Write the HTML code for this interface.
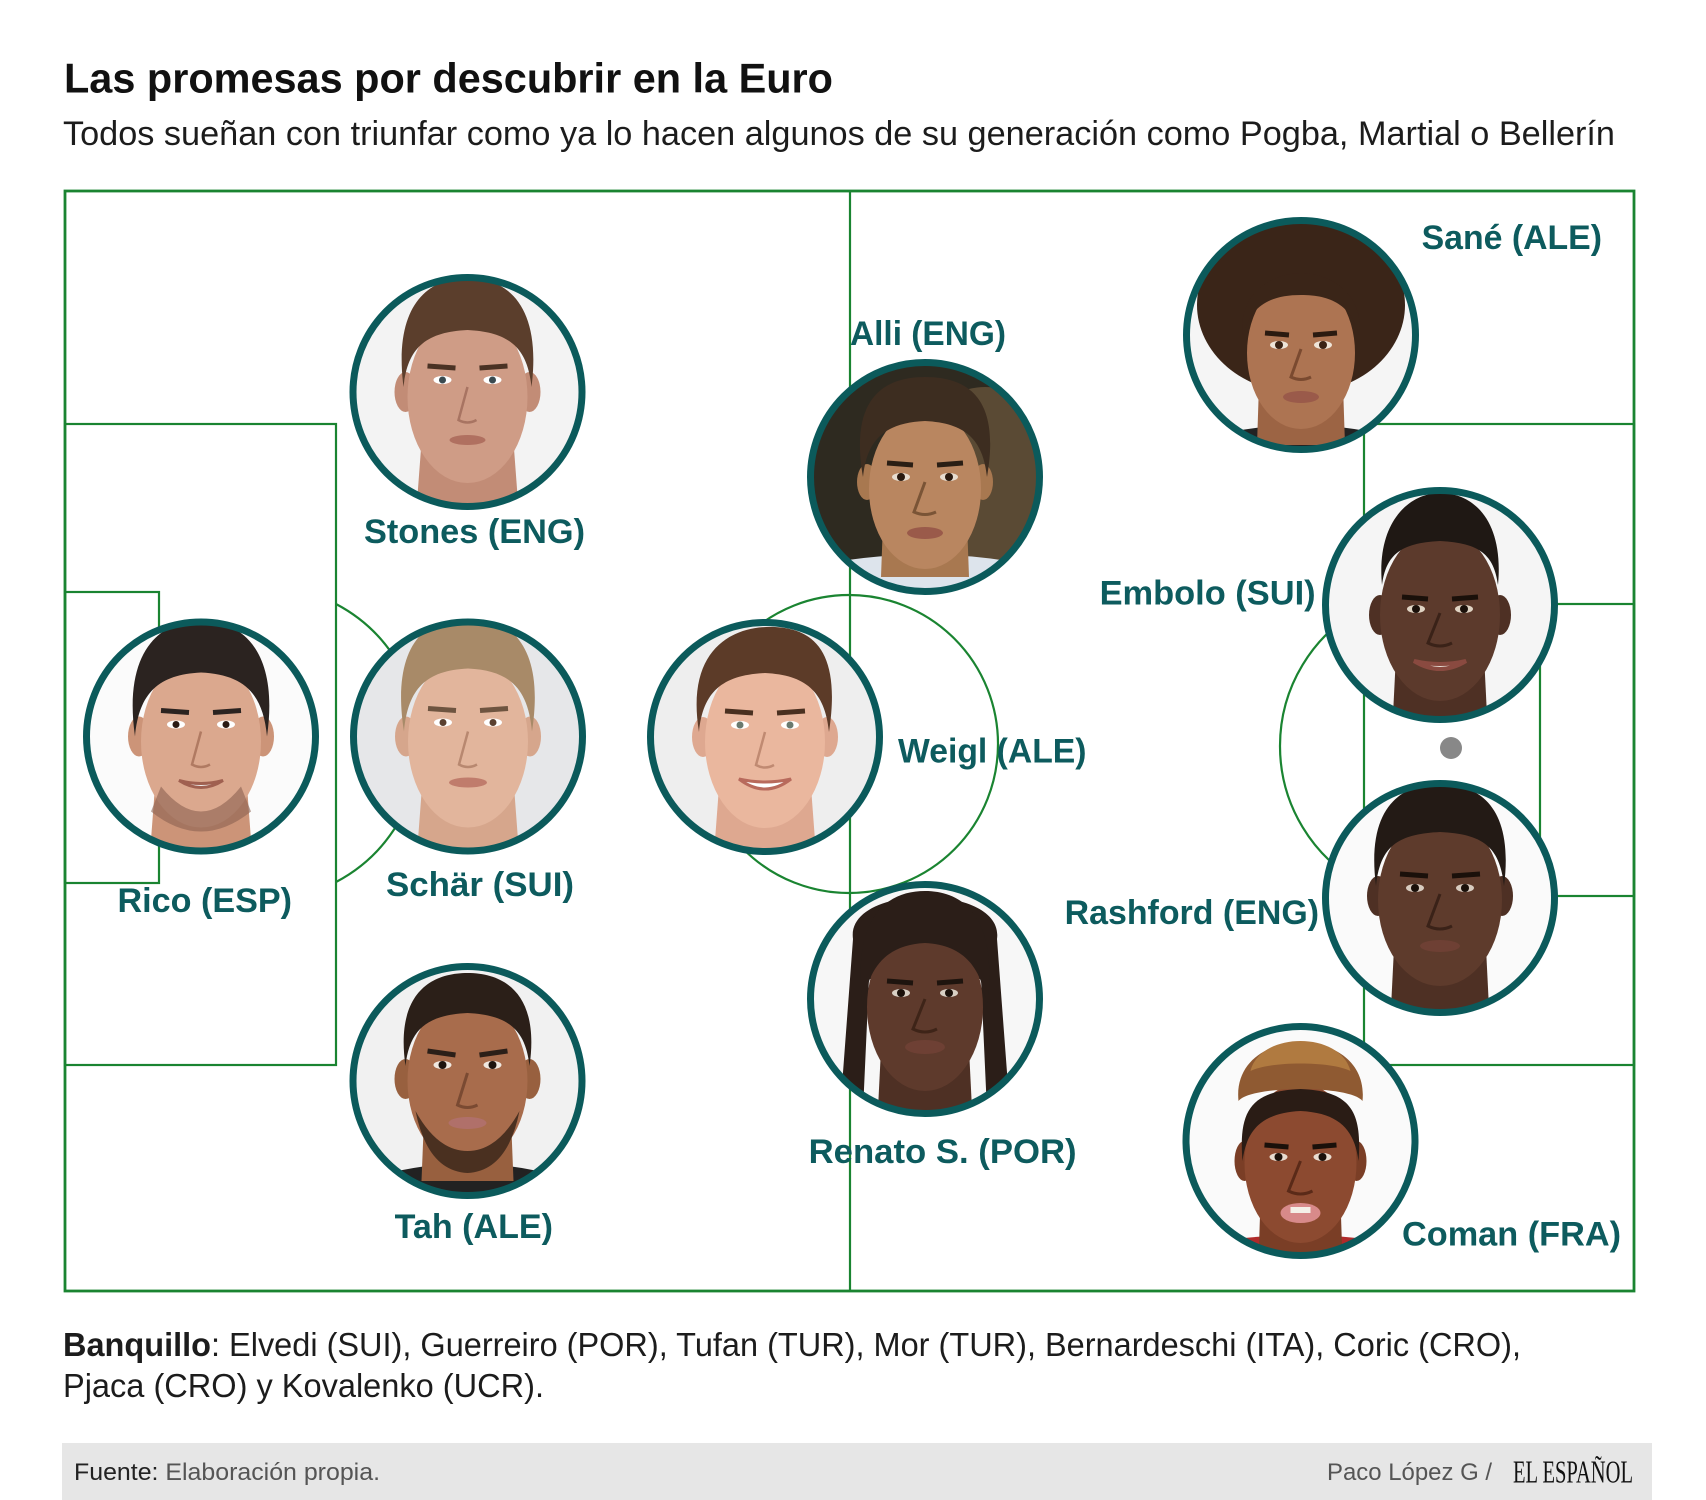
<!DOCTYPE html>
<html>
<head>
<meta charset="utf-8">
<style>
  html, body { margin:0; padding:0; background:#ffffff; }
  svg { display:block; }
  .lbl { font-family:"Liberation Sans", sans-serif; font-weight:bold; font-size:34px; fill:#0d5b5e; }
</style>
</head>
<body>
<svg width="1706" height="1500" viewBox="0 0 1706 1500" xmlns="http://www.w3.org/2000/svg">
  <defs>
    <clipPath id="c"><circle cx="0" cy="0" r="114"/></clipPath>
  </defs>
  <rect x="0" y="0" width="1706" height="1500" fill="#ffffff"/>

  <!-- Title -->
  <text x="64" y="92.5" font-family="Liberation Sans, sans-serif" font-weight="bold" font-size="42" fill="#111111" textLength="769" lengthAdjust="spacingAndGlyphs">Las promesas por descubrir en la Euro</text>
  <text x="63" y="145" font-family="Liberation Sans, sans-serif" font-size="34" fill="#1c1c1c" textLength="1552" lengthAdjust="spacingAndGlyphs">Todos sueñan con triunfar como ya lo hacen algunos de su generación como Pogba, Martial o Bellerín</text>

  <!-- Field -->
  <g fill="none" stroke="#1a8431" stroke-width="2.2">
    <rect x="65" y="191" width="1569" height="1100" stroke-width="2.8"/>
    <line x1="850" y1="191" x2="850" y2="1291"/>
    <circle cx="849" cy="744" r="149"/>
    <!-- left -->
    <rect x="65" y="424" width="271" height="641"/>
    <rect x="65" y="592" width="94" height="291"/>
    <path d="M336,604 A157,157 0 0 1 336,882"/>
    <!-- right -->
    <rect x="1364" y="424" width="270" height="641"/>
    <rect x="1540" y="604" width="94" height="292"/>
    <path d="M1364,607 A157,157 0 0 0 1364,885"/>
  </g>
  <circle cx="1451" cy="748" r="11" fill="#888888"/>

  <!-- Players -->
  <!-- Stones -->
  <g transform="translate(467.5,392)">
    <g clip-path="url(#c)">
      <rect x="-120" y="-120" width="240" height="240" fill="#f3f3f3"/>
      <path d="M-46,50 L-52,130 L52,130 L46,50 Z" fill="#c28c76"/>
      <ellipse cx="-62" cy="0" rx="11" ry="20" fill="#c28c76"/>
      <ellipse cx="62" cy="0" rx="11" ry="20" fill="#c28c76"/>
      <ellipse cx="0" cy="5" rx="60" ry="86" fill="#cf9c86"/>
      <path d="M-64,-5 C-74,-84 -42,-114 0,-114 C42,-114 74,-84 64,-5 C60,-44 42,-60 0,-62 C-42,-60 -60,-44 -64,-5 Z" fill="#5b3e2c"/>
      <path d="M-40,-26 L-12,-24 M12,-24 L40,-26" stroke="#4a3224" stroke-width="5" fill="none"/>
      <ellipse cx="-25" cy="-12" rx="9" ry="4" fill="#ffffff"/><circle cx="-25" cy="-12" r="3.5" fill="#3a4a50"/>
      <ellipse cx="25" cy="-12" rx="9" ry="4" fill="#ffffff"/><circle cx="25" cy="-12" r="3.5" fill="#3a4a50"/>
      <path d="M0,-5 L-9,28 Q0,33 9,28" stroke="#a87462" stroke-width="2.5" fill="none"/>
      <ellipse cx="0" cy="48" rx="18" ry="5" fill="#b07060"/>
    </g>
    <circle cx="0" cy="0" r="114.5" fill="none" stroke="#0b5a5b" stroke-width="7"/>
  </g>

  <!-- Rico -->
  <g transform="translate(201,736.5)">
    <g clip-path="url(#c)">
      <rect x="-120" y="-120" width="240" height="240" fill="#fbfbfb"/>
      <path d="M-46,50 L-52,130 L52,130 L46,50 Z" fill="#cc9478"/>
      <ellipse cx="-62" cy="0" rx="11" ry="20" fill="#cc9478"/>
      <ellipse cx="62" cy="0" rx="11" ry="20" fill="#cc9478"/>
      <ellipse cx="0" cy="5" rx="60" ry="86" fill="#dba88e"/>
      <path d="M-40,50 Q0,100 40,50 L50,75 Q0,115 -50,75 Z" fill="#8a6050" opacity="0.6"/>
      <path d="M-66,0 C-78,-84 -42,-116 0,-116 C42,-116 78,-84 66,0 C62,-44 42,-62 0,-64 C-42,-62 -62,-44 -66,0 Z" fill="#2b2320"/>
      <path d="M-40,-26 L-12,-24 M12,-24 L40,-26" stroke="#2b2320" stroke-width="5" fill="none"/>
      <ellipse cx="-25" cy="-12" rx="9" ry="4" fill="#ffffff"/><circle cx="-25" cy="-12" r="3.5" fill="#2a1a14"/>
      <ellipse cx="25" cy="-12" rx="9" ry="4" fill="#ffffff"/><circle cx="25" cy="-12" r="3.5" fill="#2a1a14"/>
      <path d="M0,-5 L-9,28 Q0,33 9,28" stroke="#b07a62" stroke-width="2.5" fill="none"/>
      <path d="M-22,44 Q0,58 22,44 Q0,50 -22,44 Z" fill="#f0f0f0" stroke="#a06050" stroke-width="3"/>
    </g>
    <circle cx="0" cy="0" r="114.5" fill="none" stroke="#0b5a5b" stroke-width="7"/>
  </g>

  <!-- Schär -->
  <g transform="translate(468,736.5)">
    <g clip-path="url(#c)">
      <rect x="-120" y="-120" width="240" height="240" fill="#e6e7e9"/>
      <path d="M-46,50 L-52,130 L52,130 L46,50 Z" fill="#d6a68c"/>
      <ellipse cx="-62" cy="0" rx="11" ry="20" fill="#d6a68c"/>
      <ellipse cx="62" cy="0" rx="11" ry="20" fill="#d6a68c"/>
      <ellipse cx="0" cy="5" rx="60" ry="86" fill="#e2b59c"/>
      <path d="M-64,-5 C-76,-80 -50,-116 -10,-118 L10,-122 C48,-112 76,-84 64,-5 C60,-48 42,-66 0,-68 C-42,-66 -60,-48 -64,-5 Z" fill="#a88a68"/>
      <path d="M-40,-28 L-12,-26 M12,-26 L40,-28" stroke="#6e5440" stroke-width="5" fill="none"/>
      <ellipse cx="-25" cy="-14" rx="9" ry="4" fill="#ffffff"/><circle cx="-25" cy="-14" r="3.5" fill="#5a4030"/>
      <ellipse cx="25" cy="-14" rx="9" ry="4" fill="#ffffff"/><circle cx="25" cy="-14" r="3.5" fill="#5a4030"/>
      <path d="M0,-5 L-9,28 Q0,33 9,28" stroke="#b88870" stroke-width="2.5" fill="none"/>
      <ellipse cx="0" cy="46" rx="19" ry="5" fill="#c07c6c"/>
    </g>
    <circle cx="0" cy="0" r="114.5" fill="none" stroke="#0b5a5b" stroke-width="7"/>
  </g>

  <!-- Tah -->
  <g transform="translate(467.5,1081)">
    <g clip-path="url(#c)">
      <rect x="-120" y="-120" width="240" height="240" fill="#f1f1f1"/>
      <path d="M-90,95 Q0,70 90,95 L100,130 L-100,130 Z" fill="#222222"/>
      <path d="M-44,50 L-46,100 L46,100 L44,50 Z" fill="#98603f"/>
      <ellipse cx="-62" cy="-2" rx="11" ry="20" fill="#98603f"/>
      <ellipse cx="62" cy="-2" rx="11" ry="20" fill="#98603f"/>
      <ellipse cx="0" cy="0" rx="60" ry="84" fill="#a86c4c"/>
      <path d="M-52,30 Q-40,90 0,92 Q40,90 52,30 Q30,70 0,70 Q-30,70 -52,30 Z" fill="#4a3020"/>
      <path d="M-62,-15 C-72,-84 -40,-108 0,-108 C40,-108 72,-84 62,-15 C58,-52 40,-66 0,-68 C-40,-66 -58,-52 -62,-15 Z" fill="#2b1f18"/>
      <path d="M-40,-30 L-12,-26 M12,-26 L40,-30" stroke="#2b1f18" stroke-width="5" fill="none"/>
      <ellipse cx="-25" cy="-16" rx="9" ry="4" fill="#f0e8e0"/><circle cx="-25" cy="-16" r="4" fill="#1e140e"/>
      <ellipse cx="25" cy="-16" rx="9" ry="4" fill="#f0e8e0"/><circle cx="25" cy="-16" r="4" fill="#1e140e"/>
      <path d="M0,-8 L-10,24 Q0,29 10,24" stroke="#7a4a32" stroke-width="3" fill="none"/>
      <ellipse cx="0" cy="42" rx="19" ry="6" fill="#b0706a"/>
    </g>
    <circle cx="0" cy="0" r="114.5" fill="none" stroke="#0b5a5b" stroke-width="7"/>
  </g>

  <!-- Weigl -->
  <g transform="translate(765,737)">
    <g clip-path="url(#c)">
      <rect x="-120" y="-120" width="240" height="240" fill="#eeeeee"/>
      <path d="M-46,50 L-52,130 L52,130 L46,50 Z" fill="#dea890"/>
      <ellipse cx="-62" cy="0" rx="11" ry="20" fill="#dea890"/>
      <ellipse cx="62" cy="0" rx="11" ry="20" fill="#dea890"/>
      <ellipse cx="0" cy="5" rx="60" ry="86" fill="#eab79e"/>
      <path d="M-66,-5 C-80,-90 -30,-112 10,-110 C50,-108 76,-84 64,-5 C60,-46 40,-62 0,-64 C-42,-62 -62,-46 -66,-5 Z" fill="#5c3b28"/>
      <path d="M-40,-26 L-12,-24 M12,-24 L40,-26" stroke="#4a3020" stroke-width="5" fill="none"/>
      <ellipse cx="-25" cy="-12" rx="9" ry="4" fill="#ffffff"/><circle cx="-25" cy="-12" r="3.5" fill="#6a7a70"/>
      <ellipse cx="25" cy="-12" rx="9" ry="4" fill="#ffffff"/><circle cx="25" cy="-12" r="3.5" fill="#6a7a70"/>
      <path d="M0,-5 L-9,28 Q0,33 9,28" stroke="#c08a72" stroke-width="2.5" fill="none"/>
      <path d="M-26,42 Q0,62 26,42 Q0,48 -26,42 Z" fill="#ffffff" stroke="#b86a5c" stroke-width="3"/>
    </g>
    <circle cx="0" cy="0" r="114.5" fill="none" stroke="#0b5a5b" stroke-width="7"/>
  </g>

  <!-- Alli -->
  <g transform="translate(925,477)">
    <g clip-path="url(#c)">
      <rect x="-120" y="-120" width="240" height="240" fill="#2e2a20"/>
      <ellipse cx="60" cy="10" rx="80" ry="100" fill="#5a4a34"/>
      <path d="M-90,85 Q0,70 90,85 L100,130 L-100,130 Z" fill="#dde4ec"/>
      <path d="M-42,45 L-44,100 L44,100 L42,45 Z" fill="#a87850"/>
      <ellipse cx="-58" cy="5" rx="10" ry="18" fill="#a87850"/>
      <ellipse cx="58" cy="5" rx="10" ry="18" fill="#a87850"/>
      <ellipse cx="0" cy="12" rx="56" ry="80" fill="#b98660"/>
      <path d="M-62,0 C-76,-80 -40,-100 0,-100 C42,-100 76,-80 62,0 C58,-38 40,-54 0,-56 C-40,-54 -58,-38 -62,0 Z" fill="#3d2d20"/>
      <path d="M-38,-14 L-12,-12 M12,-12 L38,-14" stroke="#2a1e14" stroke-width="5" fill="none"/>
      <ellipse cx="-24" cy="0" rx="9" ry="4" fill="#e8ddd0"/><circle cx="-24" cy="0" r="4" fill="#2a1a10"/>
      <ellipse cx="24" cy="0" rx="9" ry="4" fill="#e8ddd0"/><circle cx="24" cy="0" r="4" fill="#2a1a10"/>
      <path d="M0,5 L-11,35 Q0,40 11,35" stroke="#7a5436" stroke-width="3" fill="none"/>
      <ellipse cx="0" cy="56" rx="18" ry="6" fill="#9a5a4a"/>
    </g>
    <circle cx="0" cy="0" r="114.5" fill="none" stroke="#0b5a5b" stroke-width="7"/>
  </g>

  <!-- Renato -->
  <g transform="translate(925,999)">
    <g clip-path="url(#c)">
      <rect x="-120" y="-120" width="240" height="240" fill="#f7f7f7"/>
      <path d="M-72,-60 C-80,-116 80,-116 72,-60 L84,100 L62,112 L56,-20 L-56,-20 L-62,112 L-84,100 Z" fill="#2b1e18"/>
      <path d="M-44,50 L-48,130 L48,130 L44,50 Z" fill="#4e3024"/>
      <ellipse cx="0" cy="8" rx="58" ry="84" fill="#5e3a2c"/>
      <path d="M-62,10 C-74,-80 -40,-108 0,-108 C40,-108 74,-80 62,10 C58,-30 40,-54 0,-56 C-40,-54 -58,-30 -62,10 Z" fill="#2b1e18"/>
      <path d="M-38,-18 L-12,-16 M12,-16 L38,-18" stroke="#1e140e" stroke-width="5" fill="none"/>
      <ellipse cx="-24" cy="-6" rx="9" ry="4" fill="#d8cfc4"/><circle cx="-24" cy="-6" r="4" fill="#1a100a"/>
      <ellipse cx="24" cy="-6" rx="9" ry="4" fill="#d8cfc4"/><circle cx="24" cy="-6" r="4" fill="#1a100a"/>
      <path d="M0,0 L-12,30 Q0,36 12,30" stroke="#3e2418" stroke-width="3" fill="none"/>
      <ellipse cx="0" cy="48" rx="20" ry="7" fill="#6e4034"/>
    </g>
    <circle cx="0" cy="0" r="114.5" fill="none" stroke="#0b5a5b" stroke-width="7"/>
  </g>

  <!-- Sané -->
  <g transform="translate(1301,335)">
    <g clip-path="url(#c)">
      <rect x="-120" y="-120" width="240" height="240" fill="#f5f5f5"/>
      <ellipse cx="0" cy="-30" rx="104" ry="88" fill="#3a2518"/>
      <path d="M-84,100 Q0,80 84,100 L100,130 L-100,130 Z" fill="#222222"/>
      <path d="M-42,50 L-44,110 L44,110 L42,50 Z" fill="#9c6444"/>
      <ellipse cx="0" cy="18" rx="54" ry="76" fill="#ad7452"/>
      <path d="M-58,0 C-64,-40 -30,-62 0,-62 C30,-62 64,-40 58,0 C50,-30 30,-40 0,-40 C-30,-40 -50,-30 -58,0 Z" fill="#3a2518"/>
      <path d="M-36,-2 L-12,0 M12,0 L36,-2" stroke="#2a1a10" stroke-width="5" fill="none"/>
      <ellipse cx="-22" cy="10" rx="9" ry="4" fill="#eee4d8"/><circle cx="-22" cy="10" r="4" fill="#3a2214"/>
      <ellipse cx="22" cy="10" rx="9" ry="4" fill="#eee4d8"/><circle cx="22" cy="10" r="4" fill="#3a2214"/>
      <path d="M0,14 L-10,42 Q0,47 10,42" stroke="#7a4a30" stroke-width="3" fill="none"/>
      <ellipse cx="0" cy="62" rx="18" ry="6" fill="#9a5a4a"/>
    </g>
    <circle cx="0" cy="0" r="114.5" fill="none" stroke="#0b5a5b" stroke-width="7"/>
  </g>

  <!-- Embolo -->
  <g transform="translate(1440,605)">
    <g clip-path="url(#c)">
      <rect x="-120" y="-120" width="240" height="240" fill="#f5f5f5"/>
      <path d="M-44,50 L-48,130 L48,130 L44,50 Z" fill="#4e3024"/>
      <ellipse cx="-60" cy="10" rx="11" ry="20" fill="#4e3024"/>
      <ellipse cx="60" cy="10" rx="11" ry="20" fill="#4e3024"/>
      <ellipse cx="0" cy="10" rx="60" ry="86" fill="#5c3a2c"/>
      <path d="M-58,-20 C-64,-84 -30,-112 0,-112 C34,-112 64,-84 58,-20 C54,-50 40,-62 0,-64 C-40,-62 -54,-50 -58,-20 Z" fill="#1f1814"/>
      <path d="M-38,-8 L-12,-6 M12,-6 L38,-8" stroke="#1a100a" stroke-width="5" fill="none"/>
      <ellipse cx="-24" cy="4" rx="9" ry="4" fill="#e0d4c4"/><circle cx="-24" cy="4" r="4" fill="#1a100a"/>
      <ellipse cx="24" cy="4" rx="9" ry="4" fill="#e0d4c4"/><circle cx="24" cy="4" r="4" fill="#1a100a"/>
      <path d="M0,8 L-12,38 Q0,44 12,38" stroke="#3a2218" stroke-width="3" fill="none"/>
      <path d="M-26,56 Q0,72 26,56 Q0,62 -26,56 Z" fill="#e8e0d8" stroke="#8a4a40" stroke-width="4"/>
    </g>
    <circle cx="0" cy="0" r="114.5" fill="none" stroke="#0b5a5b" stroke-width="7"/>
  </g>

  <!-- Rashford -->
  <g transform="translate(1440,898)">
    <g clip-path="url(#c)">
      <rect x="-120" y="-120" width="240" height="240" fill="#fafafa"/>
      <path d="M-46,50 L-50,130 L50,130 L46,50 Z" fill="#4e3024"/>
      <ellipse cx="-62" cy="-2" rx="11" ry="20" fill="#4e3024"/>
      <ellipse cx="62" cy="-2" rx="11" ry="20" fill="#4e3024"/>
      <ellipse cx="0" cy="2" rx="62" ry="86" fill="#5e3b2c"/>
      <path d="M-64,-12 C-74,-90 -40,-114 0,-114 C40,-114 74,-90 64,-12 C60,-52 42,-64 0,-66 C-42,-64 -60,-52 -64,-12 Z" fill="#231a15"/>
      <path d="M-40,-24 L-12,-22 M12,-22 L40,-24" stroke="#1a100a" stroke-width="5" fill="none"/>
      <ellipse cx="-25" cy="-10" rx="9" ry="4" fill="#d8ccc0"/><circle cx="-25" cy="-10" r="4" fill="#1a100a"/>
      <ellipse cx="25" cy="-10" rx="9" ry="4" fill="#d8ccc0"/><circle cx="25" cy="-10" r="4" fill="#1a100a"/>
      <path d="M0,-4 L-12,28 Q0,34 12,28" stroke="#3a2218" stroke-width="3" fill="none"/>
      <ellipse cx="0" cy="48" rx="20" ry="6" fill="#6e4034"/>
    </g>
    <circle cx="0" cy="0" r="114.5" fill="none" stroke="#0b5a5b" stroke-width="7"/>
  </g>

  <!-- Coman -->
  <g transform="translate(1300.5,1141)">
    <g clip-path="url(#c)">
      <rect x="-120" y="-120" width="240" height="240" fill="#fafafa"/>
      <path d="M-80,100 Q0,88 80,100 L100,130 L-100,130 Z" fill="#b02a2a"/>
      <path d="M-40,60 L-42,120 L42,120 L40,60 Z" fill="#7a3e26"/>
      <ellipse cx="-56" cy="20" rx="10" ry="20" fill="#7a3e26"/>
      <ellipse cx="56" cy="20" rx="10" ry="20" fill="#7a3e26"/>
      <ellipse cx="0" cy="22" rx="56" ry="80" fill="#8c4a30"/>
      <path d="M-58,20 C-62,-30 -50,-50 0,-52 C50,-50 62,-30 58,20 C54,-10 40,-28 0,-30 C-40,-28 -54,-10 -58,20 Z" fill="#2a1c15"/>
      <path d="M-62,-40 C-70,-118 70,-118 62,-40 C50,-56 -50,-56 -62,-40 Z" fill="#8f5a32"/>
      <path d="M-50,-70 C-40,-110 40,-110 50,-70 C30,-80 -30,-80 -50,-70 Z" fill="#b07a40"/>
      <path d="M-36,4 L-12,6 M12,6 L36,4" stroke="#1a100a" stroke-width="5" fill="none"/>
      <ellipse cx="-22" cy="16" rx="9" ry="4" fill="#e8dcd0"/><circle cx="-22" cy="16" r="4" fill="#1a100a"/>
      <ellipse cx="22" cy="16" rx="9" ry="4" fill="#e8dcd0"/><circle cx="22" cy="16" r="4" fill="#1a100a"/>
      <path d="M0,20 L-12,50 Q0,56 12,50" stroke="#5a2a18" stroke-width="3" fill="none"/>
      <ellipse cx="0" cy="72" rx="20" ry="10" fill="#d88a8a"/>
      <rect x="-10" y="66" width="20" height="6" fill="#f4f0e8"/>
    </g>
    <circle cx="0" cy="0" r="114.5" fill="none" stroke="#0b5a5b" stroke-width="7"/>
  </g>

  <!-- Labels -->
  <text class="lbl" x="364" y="543" textLength="221" lengthAdjust="spacingAndGlyphs">Stones (ENG)</text>
  <text class="lbl" x="117.5" y="912" textLength="174.5" lengthAdjust="spacingAndGlyphs">Rico (ESP)</text>
  <text class="lbl" x="386" y="896" textLength="188" lengthAdjust="spacingAndGlyphs">Schär (SUI)</text>
  <text class="lbl" x="394.6" y="1238" textLength="158.4" lengthAdjust="spacingAndGlyphs">Tah (ALE)</text>
  <text class="lbl" x="898" y="762.5" textLength="188.5" lengthAdjust="spacingAndGlyphs">Weigl (ALE)</text>
  <text class="lbl" x="850" y="345" textLength="156" lengthAdjust="spacingAndGlyphs">Alli (ENG)</text>
  <text class="lbl" x="808.6" y="1163" textLength="268" lengthAdjust="spacingAndGlyphs">Renato S. (POR)</text>
  <text class="lbl" x="1421.6" y="249" textLength="180.4" lengthAdjust="spacingAndGlyphs">Sané (ALE)</text>
  <text class="lbl" x="1099.6" y="604.3" textLength="216" lengthAdjust="spacingAndGlyphs">Embolo (SUI)</text>
  <text class="lbl" x="1064.6" y="923.8" textLength="254.4" lengthAdjust="spacingAndGlyphs">Rashford (ENG)</text>
  <text class="lbl" x="1402" y="1245.5" textLength="219" lengthAdjust="spacingAndGlyphs">Coman (FRA)</text>

  <!-- Banquillo -->
  <text x="63" y="1356" font-family="Liberation Sans, sans-serif" font-size="33" fill="#1c1c1c" textLength="1458" lengthAdjust="spacingAndGlyphs"><tspan font-weight="bold">Banquillo</tspan>: Elvedi (SUI), Guerreiro (POR), Tufan (TUR), Mor (TUR), Bernardeschi (ITA), Coric (CRO),</text>
  <text x="63" y="1397" font-family="Liberation Sans, sans-serif" font-size="33" fill="#1c1c1c" textLength="481" lengthAdjust="spacingAndGlyphs">Pjaca (CRO) y Kovalenko (UCR).</text>

  <!-- Footer -->
  <rect x="62" y="1443" width="1590" height="57" fill="#e6e6e6"/>
  <text x="74" y="1480" font-family="Liberation Sans, sans-serif" font-size="24" fill="#222222" textLength="306" lengthAdjust="spacingAndGlyphs">Fuente:<tspan fill="#555555"> Elaboración propia.</tspan></text>
  <text x="1327" y="1480" font-family="Liberation Sans, sans-serif" font-size="24" fill="#555555" textLength="165" lengthAdjust="spacingAndGlyphs">Paco López G /</text>
  <text x="1513" y="1482.7" font-family="Liberation Serif, serif" font-size="32" fill="#111111" textLength="120" lengthAdjust="spacingAndGlyphs">EL ESPAÑOL</text>
</svg>
</body>
</html>
